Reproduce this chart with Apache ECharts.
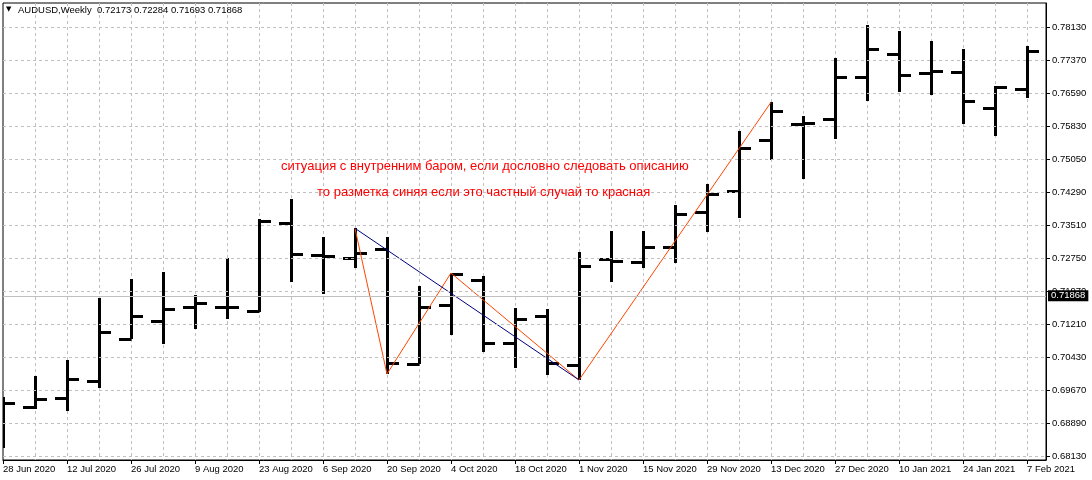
<!DOCTYPE html>
<html>
<head>
<meta charset="utf-8">
<script src="https://cdn.jsdelivr.net/npm/echarts@6/dist/echarts.min.js"></script>
<style>
  html, body { margin: 0; padding: 0; background: #fff; }
  #container { width: 1092px; height: 480px; }
</style>
</head>
<body>
<div id="container"></div>
<script>
// ---- data ----
var weeks = ['28 Jun 2020','5 Jul 2020','12 Jul 2020','19 Jul 2020','26 Jul 2020','2 Aug 2020','9 Aug 2020','16 Aug 2020',
  '23 Aug 2020','30 Aug 2020','6 Sep 2020','13 Sep 2020','20 Sep 2020','27 Sep 2020','4 Oct 2020','11 Oct 2020',
  '18 Oct 2020','25 Oct 2020','1 Nov 2020','8 Nov 2020','15 Nov 2020','22 Nov 2020','29 Nov 2020','6 Dec 2020',
  '13 Dec 2020','20 Dec 2020','27 Dec 2020','3 Jan 2021','10 Jan 2021','17 Jan 2021','24 Jan 2021','31 Jan 2021','7 Feb 2021'];

var opens  = [0.69350,0.69281,0.69491,0.69887,0.70861,0.71288,0.71600,0.71614,0.71514,0.73575,0.72828,0.72758,0.72954,
  0.70284,0.71661,0.72231,0.70774,0.71390,0.70247,0.72728,0.72665,0.73015,0.73832,0.74322,0.75505,0.75878,0.76002,
  0.76982,0.77519,0.77076,0.77099,0.76259,0.76688];
var highs  = [0.69514,0.70000,0.70370,0.71810,0.72261,0.72424,0.71887,0.72751,0.73661,0.74121,0.73241,0.73444,0.73234,
  0.72097,0.72401,0.72324,0.71584,0.71568,0.72891,0.73381,0.73381,0.73988,0.74478,0.75715,0.76385,0.76065,0.77419,
  0.78182,0.78049,0.77815,0.77622,0.76772,0.77692];
var lows   = [0.68310,0.69220,0.69187,0.69710,0.70853,0.70751,0.71087,0.71327,0.71484,0.72198,0.71904,0.72525,0.70044,
  0.70284,0.70947,0.70550,0.70191,0.70013,0.69904,0.72198,0.72525,0.72627,0.73365,0.73691,0.75045,0.74602,0.75535,
  0.76408,0.76632,0.76562,0.75885,0.75605,0.76492];
var closes = [0.69374,0.69453,0.69934,0.71031,0.71404,0.71568,0.71708,0.71600,0.73621,0.72851,0.72805,0.72861,0.70307,
  0.71614,0.72384,0.70774,0.71334,0.70293,0.72564,0.72688,0.73015,0.73778,0.74245,0.75318,0.76189,0.75909,0.76982,
  0.77629,0.77022,0.77122,0.76422,0.76749,0.77589];

var yTicks = [0.68130,0.68890,0.69670,0.70430,0.71210,0.71970,0.72750,0.73510,0.74290,0.75050,0.75830,0.76590,0.77370,0.78130];
var labelWeeks = [0,2,4,6,8,10,12,14,16,18,20,22,24,26,28,30,32];

// zigzag swings: [bar index, 'h' = high / 'l' = low]
var redSwings  = [[11,'h'],[12,'l'],[14,'h'],[18,'l'],[24,'h']];
var blueSwings = [[11,'h'],[18,'l']];

var lastPrice = 0.71868;
var header = 'AUDUSD,Weekly  0.72173 0.72284 0.71693 0.71868';
var note1 = 'ситуация с внутренним баром, если дословно следовать описанию';
var note2 = 'то разметка синяя если это частный случай то красная';

// ---- build ----
var FONT = 'Liberation Sans';
var bars = [];
for (var i = 0; i < opens.length; i++) {
  bars.push([i, opens[i], highs[i], lows[i], closes[i]]);
}
function swingPts(list) {
  return list.map(function (s) {
    return [s[0], s[1] == 'h' ? highs[s[0]] : lows[s[0]]];
  });
}
var gridLines = yTicks.map(function (v) { return { yAxis: v }; });

var X_MAX = 32.594;
var dom = document.getElementById('container');
var myChart = echarts.init(dom);

var option = {
  animation: false,
  backgroundColor: '#fff',
  grid: { left: 3, right: 46, top: 3, bottom: 20, show: true, borderColor: '#000', borderWidth: 1, backgroundColor: '#fff' },
  xAxis: [{
    // weekly grid lines only
    type: 'value', min: 0, max: X_MAX, interval: 1,
    axisLine: { show: false, onZero: false }, axisTick: { show: false }, axisLabel: { show: false },
    splitLine: { show: true, showMinLine: false, showMaxLine: false, lineStyle: { color: '#c0c0c0', type: [3, 3], width: 1 } }
  }, {
    // date labels every 2 weeks
    type: 'value', min: 0, max: X_MAX, interval: 2, position: 'bottom',
    axisLine: { show: true, onZero: false, lineStyle: { color: '#000', width: 1 } },
    axisTick: { show: true, customValues: labelWeeks, length: 4, lineStyle: { color: '#000' } },
    axisLabel: {
      customValues: labelWeeks, align: 'left', margin: 4,
      fontFamily: FONT, fontSize: 9.5, color: '#000',
      formatter: function (v) { return weeks[v] || ''; }
    },
    splitLine: { show: false }
  }],
  yAxis: {
    type: 'value', position: 'right', min: 0.68037, max: 0.78702,
    axisLine: { show: true, onZero: false, lineStyle: { color: '#000', width: 1 } },
    axisTick: { show: true, inside: false, customValues: yTicks, length: 4, lineStyle: { color: '#000' } },
    axisLabel: {
      customValues: yTicks, margin: 6,
      fontFamily: FONT, fontSize: 9.5, color: '#000',
      formatter: function (v) { return v.toFixed(5); }
    },
    splitLine: { show: false }
  },
  graphic: [
    { type: 'text', left: 6, top: 6, z: 100, style: { text: '▼', fontSize: 7, fill: '#000', fontFamily: 'DejaVu Sans' } },
    { type: 'text', left: 18, top: 5, z: 100, style: { text: header, fontSize: 9.5, fill: '#000', fontFamily: FONT } },
    { type: 'text', left: 281, top: 160, z: 100, style: { text: note1, fontSize: 13, fill: '#ff0000', fontFamily: FONT } },
    { type: 'text', left: 317, top: 186, z: 100, style: { text: note2, fontSize: 13, fill: '#ff0000', fontFamily: FONT } }
  ],
  series: [
    {
      // horizontal dashed grid at the price ticks + current price line
      type: 'line', xAxisIndex: 0, data: [], z: 1, silent: true,
      markLine: {
        silent: true, symbol: 'none', animation: false, precision: 5,
        lineStyle: { color: '#c0c0c0', type: [3, 3], width: 1 },
        label: { show: false },
        data: gridLines.concat([{
          yAxis: lastPrice,
          lineStyle: { color: '#c0c0c0', type: 'solid', width: 1 },
          label: {
            show: true, position: 'end', distance: 2, formatter: lastPrice.toFixed(5),
            backgroundColor: '#000', color: '#fff', padding: [1, 3, 0, 3],
            fontFamily: FONT, fontSize: 9.5
          }
        }])
      }
    },
    {
      type: 'custom', name: 'AUDUSD', xAxisIndex: 0, z: 3, clip: true,
      encode: { x: 0, y: [1, 2, 3, 4] },
      data: bars,
      renderItem: function (params, api) {
        var i = api.value(0);
        var xs = Math.round(api.coord([i, api.value(2)])[0]);
        var x = xs + 0.5;
        var yo = Math.round(api.coord([i, api.value(1)])[1]) + 0.5;
        var yh = Math.round(api.coord([i, api.value(2)])[1]);
        var yl = Math.round(api.coord([i, api.value(3)])[1]);
        var yc = Math.round(api.coord([i, api.value(4)])[1]) + 0.5;
        var st = { stroke: '#000', lineWidth: 3 };
        return {
          type: 'group',
          children: [
            { type: 'line', shape: { x1: x, y1: yh, x2: x, y2: yl }, style: st },
            { type: 'line', shape: { x1: xs - 12, y1: yo, x2: x, y2: yo }, style: st },
            { type: 'line', shape: { x1: x, y1: yc, x2: xs + 12, y2: yc }, style: st }
          ]
        };
      }
    },
    {
      type: 'line', xAxisIndex: 0, z: 4, symbol: 'none', silent: true,
      lineStyle: { color: '#ff4500', width: 1 },
      data: swingPts(redSwings)
    },
    {
      type: 'line', xAxisIndex: 0, z: 4, symbol: 'none', silent: true,
      lineStyle: { color: '#000080', width: 1 },
      data: swingPts(blueSwings)
    }
  ]
};

myChart.setOption(option);
</script>
</body>
</html>
